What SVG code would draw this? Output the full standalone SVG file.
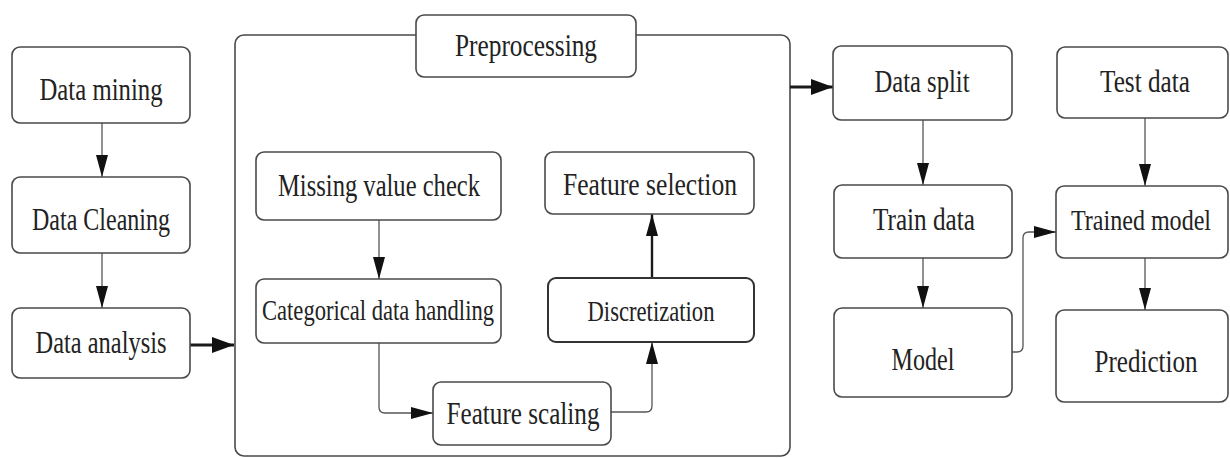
<svg xmlns="http://www.w3.org/2000/svg" width="1230" height="458" viewBox="0 0 1230 458">
  <style>
    .box { fill: #ffffff; stroke: #4a4a4a; stroke-width: 1.6; }
    .box-bold { fill: #ffffff; stroke: #333333; stroke-width: 2; }
    .frame { fill: none; stroke: #4a4a4a; stroke-width: 1.6; }
    .lbl { font-family: "Liberation Serif", "Times New Roman", serif; font-size: 31px; fill: #222222; text-anchor: middle; }
    .lbl-s { font-size: 29px; }
    .link { fill: none; stroke: #555555; stroke-width: 1.3; }
    .link-bold { fill: none; stroke: #1a1a1a; stroke-width: 3; }
    .link-mid { fill: none; stroke: #1a1a1a; stroke-width: 2.4; }
  </style>
  <defs>
    <marker id="head" markerUnits="userSpaceOnUse" markerWidth="24" markerHeight="14" refX="22" refY="7" orient="auto">
      <path d="M0,1 L22,7 L0,13 Z" fill="#111111"/>
    </marker>
    <marker id="head-bold" markerUnits="userSpaceOnUse" markerWidth="24" markerHeight="18" refX="22" refY="9" orient="auto">
      <path d="M0,1 L22,9 L0,17 Z" fill="#111111"/>
    </marker>
  </defs>

  <rect width="1230" height="458" fill="#ffffff"/>

  <!-- preprocessing container -->
  <g id="preprocessing-frame">
    <rect class="frame" x="235" y="35" width="555" height="421" rx="9"/>
  </g>

  <!-- connectors -->
  <g id="connectors">
    <line class="link" x1="102" y1="123" x2="102" y2="177" marker-end="url(#head)"/>
    <line class="link" x1="102" y1="253" x2="102" y2="308" marker-end="url(#head)"/>
    <line class="link-bold" x1="190" y1="345" x2="234" y2="345" marker-end="url(#head-bold)"/>
    <line class="link-bold" x1="790" y1="87" x2="833" y2="87" marker-end="url(#head-bold)"/>
    <line class="link" x1="379" y1="220" x2="379" y2="279" marker-end="url(#head)"/>
    <path class="link" d="M379,343 V407 Q379,413 385,413 H433" marker-end="url(#head)"/>
    <path class="link" d="M611,412 H646 Q652,412 652,406 V342" marker-end="url(#head)"/>
    <line class="link-mid" x1="652" y1="278" x2="652" y2="214" marker-end="url(#head)"/>
    <line class="link" x1="923" y1="120" x2="923" y2="185" marker-end="url(#head)"/>
    <line class="link" x1="923" y1="258" x2="923" y2="308" marker-end="url(#head)"/>
    <line class="link" x1="1145" y1="118" x2="1145" y2="186" marker-end="url(#head)"/>
    <line class="link" x1="1145" y1="258" x2="1145" y2="310" marker-end="url(#head)"/>
    <path class="link" d="M1012,352 H1017 Q1023,352 1023,346 V238 Q1023,232 1029,232 H1056" marker-end="url(#head)"/>
  </g>

  <!-- left column -->
  <g id="data-mining">
    <rect class="box" x="12" y="47" width="178" height="76" rx="8"/>
    <text class="lbl" x="101" y="100" textLength="123" lengthAdjust="spacingAndGlyphs">Data mining</text>
  </g>
  <g id="data-cleaning">
    <rect class="box" x="12" y="177" width="178" height="76" rx="8"/>
    <text class="lbl" x="101" y="230" textLength="138" lengthAdjust="spacingAndGlyphs">Data Cleaning</text>
  </g>
  <g id="data-analysis">
    <rect class="box" x="12" y="308" width="178" height="70" rx="8"/>
    <text class="lbl" x="101" y="353" textLength="131" lengthAdjust="spacingAndGlyphs">Data analysis</text>
  </g>

  <!-- preprocessing stages -->
  <g id="preprocessing">
    <rect class="box" x="416" y="15" width="220" height="62" rx="8"/>
    <text class="lbl" x="526" y="56" textLength="142" lengthAdjust="spacingAndGlyphs">Preprocessing</text>
  </g>
  <g id="missing-value-check">
    <rect class="box" x="256" y="152" width="245" height="68" rx="8"/>
    <text class="lbl" x="379" y="196" textLength="202" lengthAdjust="spacingAndGlyphs">Missing value check</text>
  </g>
  <g id="categorical-data-handling">
    <rect class="box" x="256" y="279" width="245" height="64" rx="8"/>
    <text class="lbl lbl-s" x="378" y="320" textLength="232" lengthAdjust="spacingAndGlyphs">Categorical data handling</text>
  </g>
  <g id="feature-scaling">
    <rect class="box" x="433" y="382" width="178" height="63" rx="8"/>
    <text class="lbl" x="523" y="424" textLength="153" lengthAdjust="spacingAndGlyphs">Feature scaling</text>
  </g>
  <g id="discretization">
    <rect class="box-bold" x="548" y="278" width="206" height="64" rx="8"/>
    <text class="lbl lbl-s" x="651" y="321" textLength="127" lengthAdjust="spacingAndGlyphs">Discretization</text>
  </g>
  <g id="feature-selection">
    <rect class="box" x="545" y="152" width="209" height="62" rx="8"/>
    <text class="lbl" x="650" y="195" textLength="174" lengthAdjust="spacingAndGlyphs">Feature selection</text>
  </g>

  <!-- training / evaluation -->
  <g id="data-split">
    <rect class="box" x="833" y="46" width="179" height="74" rx="8"/>
    <text class="lbl" x="922" y="92" textLength="95" lengthAdjust="spacingAndGlyphs">Data split</text>
  </g>
  <g id="test-data">
    <rect class="box" x="1057" y="47" width="171" height="71" rx="8"/>
    <text class="lbl" x="1145" y="92" textLength="90" lengthAdjust="spacingAndGlyphs">Test data</text>
  </g>
  <g id="train-data">
    <rect class="box" x="834" y="185" width="178" height="73" rx="8"/>
    <text class="lbl" x="924" y="230" textLength="102" lengthAdjust="spacingAndGlyphs">Train data</text>
  </g>
  <g id="trained-model">
    <rect class="box" x="1056" y="186" width="172" height="72" rx="8"/>
    <text class="lbl lbl-s" x="1141" y="230" textLength="140" lengthAdjust="spacingAndGlyphs">Trained model</text>
  </g>
  <g id="model">
    <rect class="box" x="834" y="308" width="178" height="89" rx="8"/>
    <text class="lbl" x="923" y="370" textLength="63" lengthAdjust="spacingAndGlyphs">Model</text>
  </g>
  <g id="prediction">
    <rect class="box" x="1056" y="310" width="172" height="92" rx="8"/>
    <text class="lbl" x="1146" y="372" textLength="103" lengthAdjust="spacingAndGlyphs">Prediction</text>
  </g>
</svg>
